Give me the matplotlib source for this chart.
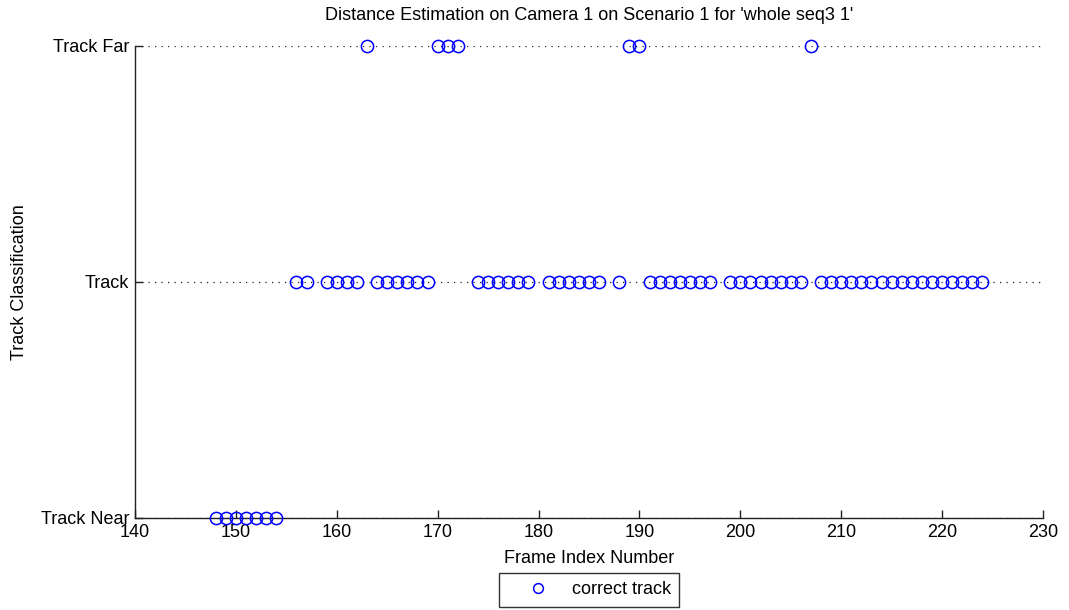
import matplotlib
matplotlib.use("Agg")
import matplotlib.pyplot as plt

plt.rcParams['font.family'] = ['Liberation Sans', 'DejaVu Sans']

# Class labels along the y axis (bottom to top)
class_labels = ["Track Near", "Track", "Track Far"]

# Frame indices assigned to each class
frames_near = [148, 149, 150, 151, 152, 153, 154]
frames_track = [156, 157,
                159, 160, 161, 162,
                164, 165, 166, 167, 168, 169,
                174, 175, 176, 177, 178, 179,
                181, 182, 183, 184, 185, 186,
                188,
                191, 192, 193, 194, 195, 196, 197,
                199, 200, 201, 202, 203, 204, 205, 206,
                208, 209, 210, 211, 212, 213, 214, 215, 216, 217, 218,
                219, 220, 221, 222, 223, 224]
frames_far = [163, 170, 171, 172, 189, 190, 207]

x_ticks = [140, 150, 160, 170, 180, 190, 200, 210, 220, 230]

FS = 13

fig = plt.figure(figsize=(10.69, 6.10), dpi=100)
ax = fig.add_axes([135 / 1069, 1 - 518 / 610, (1043 - 135) / 1069, (518 - 46) / 610])

# dotted reference line at each class level
for level in range(len(class_labels)):
    ax.axhline(level, color='#222222', linestyle=(0, (1, 4.2)), linewidth=0.9, zorder=1)

xs = frames_near + frames_track + frames_far
ys = [0] * len(frames_near) + [1] * len(frames_track) + [2] * len(frames_far)
ax.plot(xs, ys, linestyle='none', marker='o', markersize=8.8,
        markerfacecolor='none', markeredgecolor='#0000ff', markeredgewidth=1.1,
        label='correct track', clip_on=False, zorder=3)

ax.set_xlim(140, 230)
ax.set_ylim(0, 2)
ax.set_xticks(x_ticks)
ax.set_yticks(range(len(class_labels)))
ax.set_yticklabels(class_labels)

for side in ('top', 'right'):
    ax.spines[side].set_visible(False)
for side in ('left', 'bottom'):
    ax.spines[side].set_linewidth(1.0)
    ax.spines[side].set_color('#222222')

ax.tick_params(direction='in', length=6, width=1.0, colors='#222222',
               labelsize=FS, labelcolor='black', pad=4)

ax.set_title("Distance Estimation on Camera 1 on Scenario 1 for 'whole seq3 1'",
             fontsize=FS, pad=19)
ax.set_xlabel("Frame Index Number", fontsize=FS, labelpad=7)
ax.set_ylabel("Track Classification", fontsize=FS, labelpad=9)

leg = ax.legend(loc='upper center', bbox_to_anchor=(0.5, -0.098), frameon=True,
                fancybox=False, edgecolor='black', fontsize=FS,
                handlelength=3.4, handletextpad=0.2, borderpad=0.45,
                markerscale=0.8)
leg.get_frame().set_linewidth(1.0)

fig.savefig("out.png", dpi=100, facecolor='white')
